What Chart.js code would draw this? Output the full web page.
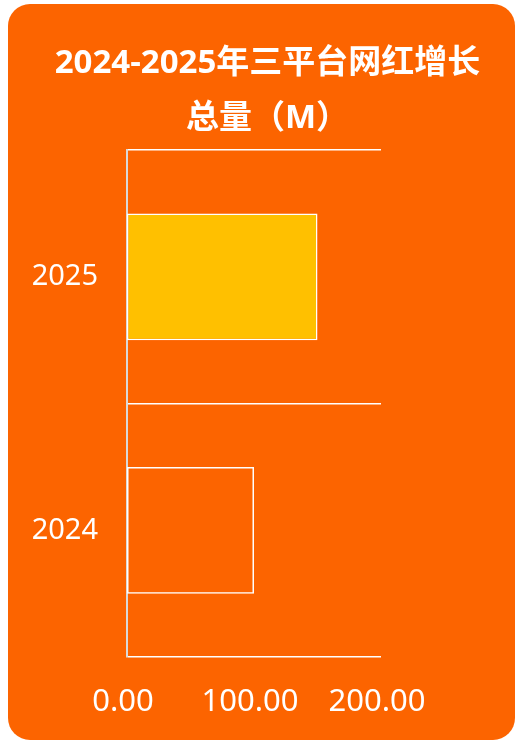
<!DOCTYPE html>
<html>
<head>
<meta charset="utf-8">
<script src="https://cdn.jsdelivr.net/npm/chart.js@4"></script>
<style>
  html, body { margin: 0; padding: 0; background: #fff; }
  .card {
    position: absolute; left: 8px; top: 4px;
    width: 507px; height: 736px;
    background: #fc6400; border-radius: 22px; overflow: hidden;
  }
</style>
</head>
<body>
<div class="card"><canvas id="chartGrowth"></canvas></div>
<script>
const years = ['2025', '2024'];
const totals = [150, 100];
const barColors = ['#ffc000', 'rgba(0,0,0,0)'];
const titleLines = ['2024-2025年三平台网红增长', '总量（M）'];

const ctx = document.getElementById('chartGrowth');
new Chart(ctx, {
  type: 'bar',
  data: {
    labels: years,
    datasets: [{
      data: totals,
      backgroundColor: barColors,
      borderColor: '#ffffff',
      borderWidth: 1.5,
      borderSkipped: false,
      barPercentage: 0.5,
      categoryPercentage: 1,
      yAxisID: 'y',
    }],
  },
  options: {
    indexAxis: 'y',
    responsive: true,
    maintainAspectRatio: false,
    animation: false,
    layout: { padding: { left: 12 } },
    plugins: {
      legend: { display: false },
      tooltip: { enabled: false },
      title: {
        display: true,
        text: titleLines,
        color: '#ffffff',
        font: { family: '"Open Sans", "Noto Sans CJK SC", sans-serif', size: 33, weight: 'bold', lineHeight: 1.67 },
        padding: { top: 32, bottom: 4 },
      },
    },
    scales: {
      x: {
        min: 0,
        max: 200,
        grid: { display: false },
        border: { display: false },
        ticks: {
          stepSize: 100,
          color: '#ffffff',
          padding: 19,
          labelOffset: -4,
          font: { family: '"Noto Sans", sans-serif', size: 31 },
          callback: v => Number(v).toFixed(2),
        },
        afterFit: s => { s.height = 83; },
      },
      y: {
        grid: { color: '#ffffff', lineWidth: 1.5, drawTicks: false },
        border: { color: '#d9d9d9', width: 2 },
        ticks: {
          color: '#ffffff',
          padding: 29,
          font: { family: '"Noto Sans", sans-serif', size: 29 },
        },
        afterFit: s => { s.width = 107; },
      },
      // empty spacer on the right so the plot stays narrow while the title centres on the card
      spacer: {
        type: 'linear',
        axis: 'y',
        position: 'right',
        grid: { display: false },
        border: { display: false },
        ticks: { display: false },
        afterFit: s => { s.width = 134; },
      },
    },
  },
});
</script>
</body>
</html>
